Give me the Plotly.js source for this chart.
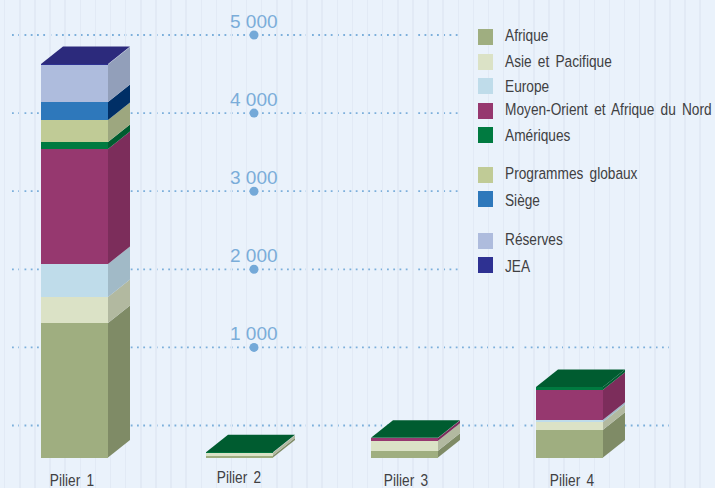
<!DOCTYPE html>
<html lang="fr">
<head>
<meta charset="utf-8">
<title>Budget par pilier</title>
<script src="https://cdn.plot.ly/plotly-3.0.1.min.js"></script>
<style>html,body{margin:0;padding:0;background:#eaf2fb}</style>
</head>
<body>
<div id="chart" style="width:715px;height:488px"></div>
<script>
// Stacked budget figures per pillar, bottom segment first.
const piliers = ["Pilier 1", "Pilier 2", "Pilier 3", "Pilier 4"];
const afrique = [1722, 25, 86, 354];
const asiePacifique = [333, 35, 128, 102];
const europe = [423, 0, 0, 26];
const moyenOrient = [1472, 0, 35, 384];
const ameriques = [90, 6, 3, 38];
const programmesGlobaux = [282, 0, 0, 0];
const siege = [230, 0, 0, 0];
const reserves = [480, 0, 0, 0];
const jea = [8, 0, 0, 0];
const graduations = [0, 1000, 2000, 3000, 4000, 5000];
const graduationLabels = ["", "1 000", "2 000", "3 000", "4 000", "5 000"];

// Series: name, values, front face, side face, top face.
const series = [
  ["Afrique", afrique, "#9fae80", "#7f8b66", "#7f8b66"],
  ["Asie et Pacifique", asiePacifique, "#dbe2c6", "#b2b9a0", "#b2b9a0"],
  ["Europe", europe, "#bfdcea", "#a1bac7", "#a1bac7"],
  ["Moyen-Orient et Afrique du Nord", moyenOrient, "#96386f", "#7c2d5b", "#7c2d5b"],
  ["Amériques", ameriques, "#007a40", "#005c30", "#005c30"],
  ["Programmes globaux", programmesGlobaux, "#c0cb96", "#9da77f", "#9da77f"],
  ["Siège", siege, "#2e78bb", "#002f66", "#002f66"],
  ["Réserves", reserves, "#aebcdd", "#929fba", "#929fba"],
  ["JEA", jea, "#2e3192", "#2c2a7c", "#2c2a7c"]
];

// Pixel geometry of the oblique projection.
const W = 715, H = 488;
const pxPerUnitY = 0.0781, pxPerCat = 165;
const firstCatPx = 74.5, baselinePx = 457.5, wallZeroPx = 425.5;
const barPx = 67, depthXPx = 22, depthYPx = 17.5;
const barWidth = barPx / pxPerCat;
const depthX = depthXPx / pxPerCat;
const depthY = depthYPx / pxPerUnitY;
const wallShift = (baselinePx - wallZeroPx) / pxPerUnitY;
const xRange = [-firstCatPx / pxPerCat, (W - firstCatPx) / pxPerCat];
const yRange = [-(H - baselinePx) / pxPerUnitY, baselinePx / pxPerUnitY];
const xPos = piliers.map((_, i) => i);
const pxToX = px => xRange[0] + px / pxPerCat;

const traces = [];

// Front faces as a stacked bar chart.
series.forEach(([name, values, front]) => {
  traces.push({
    type: "bar", name, x: xPos, y: values, width: barWidth,
    marker: { color: front, line: { width: 0 } }, hoverinfo: "skip"
  });
});

// Side and top faces are extruded from the same stacks.
piliers.forEach((_, i) => {
  const xl = i - barWidth / 2, xr = i + barWidth / 2;
  let base = 0, topColor = null;
  series.forEach(([, values, , side, top]) => {
    const v = values[i];
    if (!v) return;
    traces.push({
      type: "scatter", mode: "lines", fill: "toself", fillcolor: side,
      line: { width: 0, color: side }, hoverinfo: "skip",
      x: [xr, xr + depthX, xr + depthX, xr, xr],
      y: [base, base + depthY, base + v + depthY, base + v, base]
    });
    base += v;
    topColor = top;
  });
  traces.push({
    type: "scatter", mode: "lines", fill: "toself", fillcolor: topColor,
    line: { width: 0, color: topColor }, hoverinfo: "skip",
    x: [xl, xr, xr + depthX, xl + depthX, xl],
    y: [base, base, base + depthY, base + depthY, base]
  });
});

// Graduation dots on the back wall.
const labelled = graduations.slice(1);
traces.push({
  type: "scatter", mode: "markers",
  x: labelled.map(() => pxToX(254)),
  y: labelled.map(v => v + wallShift),
  marker: { size: 9, color: "#74a9d8" },
  hoverinfo: "skip", cliponaxis: false
});

// Dotted graduation lines sit behind the stacks.
const shapes = graduations.map(v => ({
  type: "line", layer: "below", xref: "x", yref: "y",
  x0: pxToX(12), x1: pxToX(v <= 1000 ? 674 : 459),
  y0: v + wallShift, y1: v + wallShift,
  line: { color: "#7cafdb", width: 1.8, dash: "1.8px,4.45px" }
}));

const annotations = [];

// Graduation values above their dots.
labelled.forEach((v, i) => {
  annotations.push({
    xref: "paper", yref: "y", x: 253.5 / W, y: v + wallShift, yshift: 14,
    xanchor: "center", yanchor: "middle", showarrow: false,
    text: graduationLabels[i + 1], borderpad: 0,
    font: { family: "Liberation Sans", size: 19, color: "#7badd9" }
  });
});

// Hand-placed legend with grouped rows.
const legendRowsPx = [36, 61, 86, 110, 135, 173, 200, 239, 266];
const swatchRowsPx = [37, 62, 86, 111, 135, 175, 199, 241, 265];
const textFont = { family: "Liberation Sans", size: 17, color: "#404042" };
const anchors = [];
series.forEach(([name, , front], i) => {
  const y = swatchRowsPx[i];
  shapes.push({
    type: "rect", xref: "paper", yref: "paper", layer: "above",
    x0: 478 / W, x1: 493 / W, y0: 1 - (y + 8) / H, y1: 1 - (y - 8) / H,
    fillcolor: front, line: { width: 0 }
  });
  annotations.push({
    xref: "paper", yref: "paper", x: 503.5 / W, y: 1 - legendRowsPx[i] / H,
    xanchor: "left", yanchor: "middle", showarrow: false,
    text: name, font: textFont, borderpad: 0
  });
  anchors.push(0);
});

// Category captions under each stack.
const captionPx = [[71.5, 480.5], [239, 477.5], [406, 480.5], [572, 480.5]];
piliers.forEach((p, i) => {
  annotations.push({
    xref: "paper", yref: "paper", x: captionPx[i][0] / W, y: 1 - captionPx[i][1] / H,
    xanchor: "center", yanchor: "middle", showarrow: false,
    text: p, font: textFont, borderpad: 0
  });
  anchors.push(0.5);
});

const layout = {
  width: W, height: H,
  margin: { l: 0, r: 0, t: 0, b: 0, pad: 0 },
  paper_bgcolor: "#eaf2fb", plot_bgcolor: "#eaf2fb",
  barmode: "stack", showlegend: false,
  xaxis: {
    range: xRange, fixedrange: true, zeroline: false, showline: false,
    showticklabels: false, ticks: "",
    tickmode: "linear", tick0: xRange[0] + 4.7 / pxPerCat, dtick: 15.12 / pxPerCat,
    showgrid: true, gridcolor: "#e2eaf5", gridwidth: 1.5
  },
  yaxis: {
    range: yRange, fixedrange: true, zeroline: false, showline: false,
    showgrid: false, showticklabels: false, ticks: ""
  },
  shapes, annotations
};

// Condense the legend and caption lettering about its anchor.
const condense = 0.805;
Plotly.newPlot("chart", traces, layout, { staticPlot: true, displayModeBar: false }).then(gd => {
  const texts = [...gd.querySelectorAll(".annotation-text")]
    .filter(t => !/^\d/.test(t.textContent));
  texts.forEach((t, i) => {
    const before = t.getBBox();
    t.style.wordSpacing = "3px";
    const after = t.getBBox();
    const target = before.x + before.width * anchors[i];
    const source = after.x + after.width * anchors[i];
    t.setAttribute("transform", `translate(${target} 0) scale(${condense} 1) translate(${-source} 0)`);
  });
});
</script>
</body>
</html>
